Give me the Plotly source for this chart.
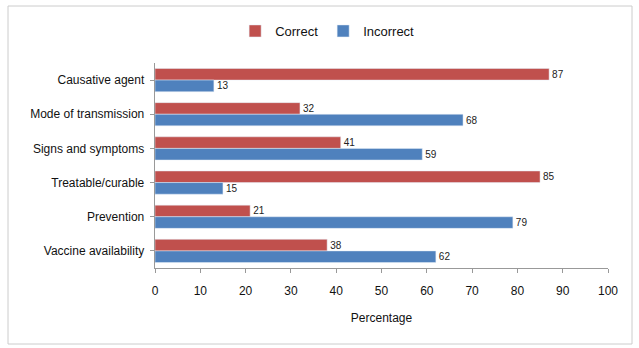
import plotly.graph_objects as go

categories = ["Causative agent", "Mode of transmission", "Signs and symptoms",
              "Treatable/curable", "Prevention", "Vaccine availability"]
correct = [87, 32, 41, 85, 21, 38]
incorrect = [13, 68, 59, 15, 79, 62]
x_ticks = list(range(0, 101, 10))

FONT = "Liberation Sans Narrow, Liberation Sans, Arial, sans-serif"
W, H = 639, 348
L, R, T, B = 155, 31, 63, 80
pw, ph = W - L - R, H - T - B

fig = go.Figure()
fig.add_trace(go.Bar(y=categories, x=correct, name="Correct", orientation="h",
                     marker_color="#C0504D", text=correct, textposition="outside",
                     textfont=dict(size=10, color="#222"), cliponaxis=False))
fig.add_trace(go.Bar(y=categories, x=incorrect, name="Incorrect", orientation="h",
                     marker_color="#4F81BD", text=incorrect, textposition="outside",
                     textfont=dict(size=10, color="#222"), cliponaxis=False))

def px2x(p):
    return (p - L) / pw

def px2y(p):
    return 1 - (p - T) / ph

fig.update_layout(
    width=W, height=H,
    margin=dict(l=L, r=R, t=T, b=B),
    paper_bgcolor="white", plot_bgcolor="white",
    font=dict(family=FONT, size=12, color="#111"),
    barmode="group", bargap=0.32, bargroupgap=0,
    legend=dict(orientation="h", x=0.38, xanchor="center", y=px2y(31), yanchor="middle",
                font=dict(size=13), traceorder="normal", itemwidth=30,
                tracegroupgap=0),
    showlegend=True,
    xaxis=dict(range=[0, 100], tickvals=x_ticks, showgrid=False, showline=True,
               linecolor="#999", ticks="outside", ticklen=4, tickcolor="#999",
               tickfont=dict(size=12), zeroline=False, ticklabelstandoff=8,
               title=dict(text="Percentage", font=dict(size=12), standoff=16)),
    yaxis=dict(categoryorder="array", categoryarray=categories,
               autorange="reversed", showgrid=False, showline=True, linecolor="#999",
               ticks="outside", ticklen=4, tickcolor="#999",
               tickfont=dict(size=12), ticksuffix=" "),
    shapes=[dict(type="rect", xref="paper", yref="paper",
                 x0=px2x(8), x1=px2x(632), y0=px2y(344), y1=px2y(6),
                 line=dict(color="#ccc", width=1), fillcolor="rgba(0,0,0,0)", layer="below")],
)

fig.write_html("out.html")
